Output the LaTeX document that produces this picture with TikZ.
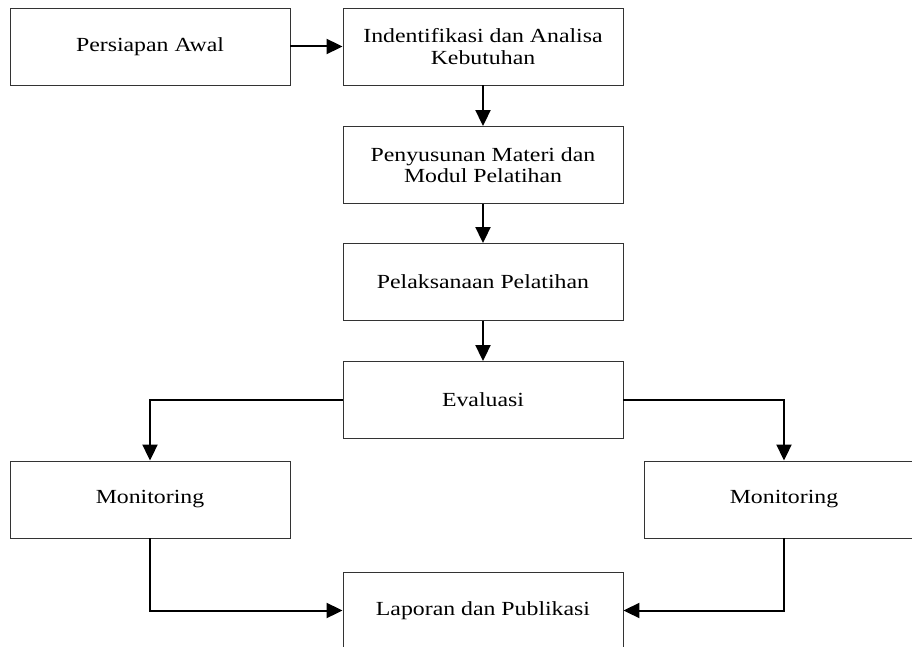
\documentclass[tikz,border=0pt]{standalone}
\usepackage{fontspec}
\setmainfont[FakeStretch=1.19]{Liberation Serif}
\usetikzlibrary{arrows.meta}
\tikzset{
  box/.style={draw=black!80, line width=0.9pt, rectangle, minimum width=280pt, minimum height=77pt,
    inner sep=0pt, align=center, font=\fontsize{20}{21.5}\selectfont},
  conn/.style={line width=2pt, -{Triangle[length=16pt,width=15pt]}}
}
\begin{document}
\begin{tikzpicture}[x=1pt,y=-1pt]
\useasboundingbox (0,0) rectangle (912,647);
\clip (0,0) rectangle (912,647);
\fill[white] (0,0) rectangle (912,647);
\node[box] (persiapan) at (150,46.5) {Persiapan Awal};
\node[box] (ident) at (483,46.5) {Indentifikasi dan Analisa\\Kebutuhan};
\node[box] (penyusunan) at (483,165) {Penyusunan Materi dan\\Modul Pelatihan};
\node[box] (pelaksanaan) at (483,282) {Pelaksanaan Pelatihan};
\node[box] (evaluasi) at (483,400) {Evaluasi};
\node[box] (monL) at (150,499.5) {Monitoring};
\node[box] (monR) at (784,499.5) {Monitoring};
\node[box] (laporan) at (483,610.5) {Laporan dan Publikasi};
\draw[conn] (persiapan) -- (ident);
\draw[conn] (ident) -- (penyusunan);
\draw[conn] (penyusunan) -- (pelaksanaan);
\draw[conn] (pelaksanaan) -- (evaluasi);
\draw[conn] (evaluasi.west) -| (monL.north);
\draw[conn] (evaluasi.east) -| (monR.north);
\draw[conn] (monL.south) |- (laporan.west);
\draw[conn] (monR.south) |- (laporan.east);
\end{tikzpicture}
\end{document}
